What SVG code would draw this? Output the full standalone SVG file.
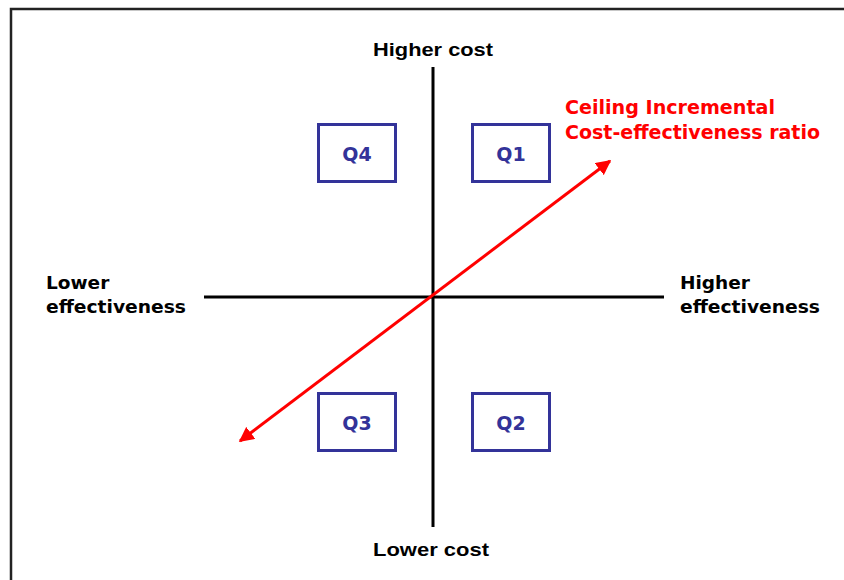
<svg xmlns="http://www.w3.org/2000/svg" width="844" height="580" viewBox="0 0 844 580">
<style>
.lbl{font-family:"DejaVu Sans","Liberation Sans",sans-serif;font-weight:bold;font-size:18.5px;fill:#000}
.cost{font-family:"Liberation Sans",Arial,sans-serif;font-weight:bold;font-size:19px;fill:#000}
.q rect{fill:#fff;stroke:#333399;stroke-width:3}
.q text{font-family:"DejaVu Sans","Liberation Sans",sans-serif;font-weight:bold;font-size:19px;fill:#333399;text-anchor:middle}
.red{font-family:"DejaVu Sans","Liberation Sans",sans-serif;font-weight:bold;font-size:19px;fill:#ff0000}
</style>
<defs>
<marker id="ah" viewBox="0 0 10 10" refX="9" refY="5" markerWidth="5" markerHeight="5" orient="auto-start-reverse" markerUnits="strokeWidth">
<path d="M0,0 L10,5 L0,10 z" fill="#ff0000"/>
</marker>
</defs>
<rect x="0" y="0" width="844" height="580" fill="#fff"/>
<rect x="11" y="9" width="850" height="600" fill="none" stroke="#222" stroke-width="2.5"/>
<g id="connectors">
<line x1="433" y1="67" x2="433" y2="527" stroke="#000" stroke-width="3"/>
<line x1="204" y1="297" x2="664" y2="297" stroke="#000" stroke-width="3"/>
<line x1="240" y1="441" x2="610" y2="161" stroke="#ff0000" stroke-width="3" marker-start="url(#ah)" marker-end="url(#ah)"/>
</g>
<g id="q4" class="q"><rect x="318.5" y="124.5" width="77" height="57"/><text x="357" y="161">Q4</text></g>
<g id="q1" class="q"><rect x="472.5" y="124.5" width="77" height="57"/><text x="511" y="161">Q1</text></g>
<g id="q3" class="q"><rect x="318.5" y="393.5" width="77" height="57"/><text x="357" y="430">Q3</text></g>
<g id="q2" class="q"><rect x="472.5" y="393.5" width="77" height="57"/><text x="511" y="430">Q2</text></g>
<g id="higher-cost"><text class="cost" x="373" y="56" textLength="120" lengthAdjust="spacingAndGlyphs">Higher cost</text></g>
<g id="lower-cost"><text class="cost" x="373" y="556" textLength="116" lengthAdjust="spacingAndGlyphs">Lower cost</text></g>
<g id="lower-eff"><text class="lbl" x="46" y="289">Lower</text><text class="lbl" x="46" y="313" textLength="140" lengthAdjust="spacingAndGlyphs">effectiveness</text></g>
<g id="higher-eff"><text class="lbl" x="680" y="289">Higher</text><text class="lbl" x="680" y="313" textLength="140" lengthAdjust="spacingAndGlyphs">effectiveness</text></g>
<g id="ceiling"><text class="red" x="565" y="114" textLength="210" lengthAdjust="spacingAndGlyphs">Ceiling Incremental</text><text class="red" x="565" y="139" textLength="255" lengthAdjust="spacingAndGlyphs">Cost-effectiveness ratio</text></g>
</svg>
